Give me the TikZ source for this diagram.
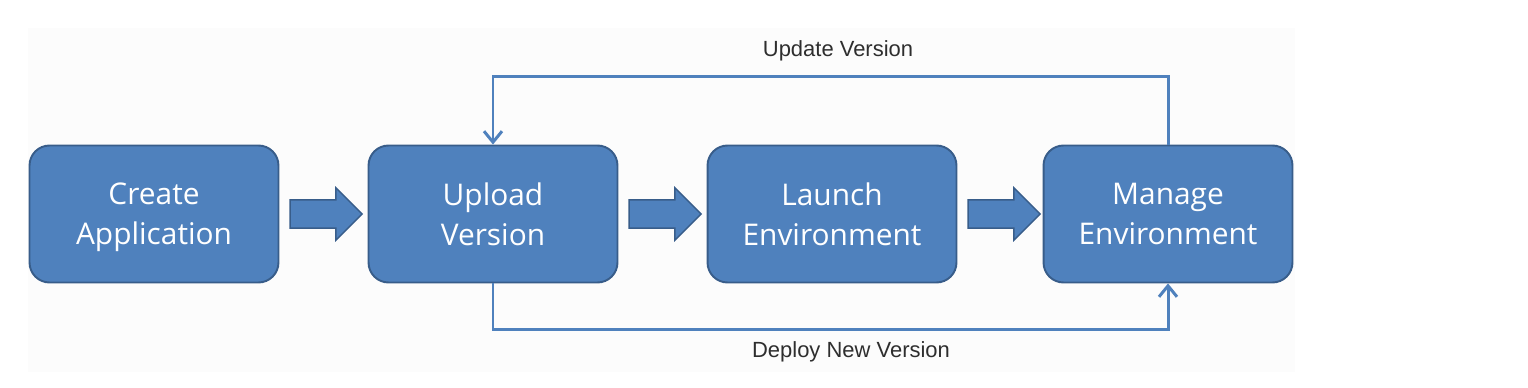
\documentclass[tikz,border=0pt]{standalone}
\usepackage{fontspec}
\setmainfont{Open Sans}
\newfontfamily\labelfont{Liberation Sans}
\usepackage{tikz}
\usetikzlibrary{arrows.meta,shapes.arrows,calc}
\definecolor{boxblue}{HTML}{4F81BD}
\definecolor{boxedge}{HTML}{385D8A}
\definecolor{backgr}{HTML}{FCFCFC}
\tikzset{
	stage/.style = {draw = boxedge, line width = 1.1pt, fill = boxblue, rounded corners = 0.4cm,
		minimum width = 4.98cm, minimum height = 2.74cm, align = center, text = white,
		text depth = 0pt, font = \fontsize{17}{22.8}\selectfont},
	fatarrow/.style = {single arrow, draw = boxedge, line width = 0.8pt, fill = boxblue,
		inner xsep = 0pt, inner ysep = 0.27cm, minimum height = 1.44cm,
		single arrow head extend = 0.24cm, anchor = tail},
	link/.style = {draw = boxblue, line width = 1.7pt, -{Straight Barb[length=0.22cm,width=0.36cm]}},
	looplabel/.style = {text = black!82, font = \labelfont\fontsize{12.5}{15}\selectfont}
}

\begin{document}
\begin{tikzpicture}[x = 0.02cm, y = -0.02cm]
	\useasboundingbox (0,0) rectangle (1528,388);
	\fill [backgr] (28,28) rectangle (1295,372);
	\node [stage] (create) at (154,214) {Create\\Application};
	\node [stage] (upload) at (493,214) {Upload\\Version};
	\node [stage] (launch) at (832,214) {Launch\\Environment};
	\node [stage] (manage) at (1168,214) {Manage\\Environment};
	\node [fatarrow] (a1) at ($(create.east)+(10,0)$) {};
	\node [fatarrow] (a2) at ($(upload.east)+(10,0)$) {};
	\node [fatarrow] (a3) at ($(launch.east)+(10,0)$) {};
	%\draw (create) -- (upload);
	\draw [link] (manage.north) -- ++(0,-68) -| (upload.north);
	\draw [link] (upload.south) -- ++(0,46) -| (manage.south);
	\node [looplabel] (update) at (838,51) {Update Version};
	\node [looplabel] (deploy) at (851,352) {Deploy New Version};
\end{tikzpicture}
\end{document}
